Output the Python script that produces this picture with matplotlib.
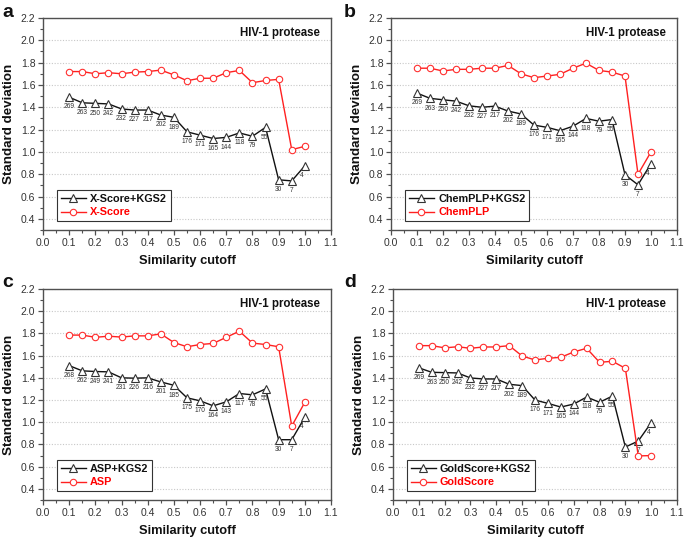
import matplotlib
matplotlib.use("Agg")
import matplotlib.pyplot as plt
from matplotlib.ticker import MultipleLocator

plt.rcParams['font.family'] = ['Liberation Sans', 'DejaVu Sans']

cutoff = [0.10, 0.15, 0.20, 0.25, 0.30, 0.35, 0.40, 0.45, 0.50, 0.55,
          0.60, 0.65, 0.70, 0.75, 0.80, 0.85, 0.90, 0.95, 1.00]

# Panel a
xscore_kgs2 = [1.49, 1.44, 1.435, 1.43, 1.385, 1.375, 1.375, 1.33, 1.31, 1.18,
               1.15, 1.12, 1.13, 1.17, 1.14, 1.22, 0.75, 0.74, 0.875]
xscore = [1.72, 1.72, 1.70, 1.71, 1.70, 1.715, 1.72, 1.733, 1.69, 1.638,
          1.66, 1.66, 1.71, 1.73, 1.62, 1.64, 1.65, 1.02, 1.05]
# Panel b
chemplp_kgs2 = [1.527, 1.48, 1.467, 1.455, 1.413, 1.40, 1.41, 1.366, 1.34, 1.24,
                1.22, 1.19, 1.23, 1.30, 1.275, 1.29, 0.795, 0.705, 0.895]
chemplp = [1.75, 1.75, 1.725, 1.74, 1.74, 1.75, 1.75, 1.775, 1.70, 1.665,
           1.68, 1.695, 1.75, 1.795, 1.73, 1.715, 1.68, 0.80, 1.00]
# Panel c
asp_kgs2 = [1.51, 1.463, 1.457, 1.454, 1.40, 1.397, 1.40, 1.363, 1.333, 1.22,
            1.193, 1.148, 1.184, 1.259, 1.247, 1.30, 0.843, 0.843, 1.045]
asp = [1.785, 1.785, 1.765, 1.775, 1.767, 1.778, 1.778, 1.796, 1.718, 1.68,
       1.70, 1.71, 1.765, 1.82, 1.713, 1.70, 1.68, 0.965, 1.18]
# Panel d
goldscore_kgs2 = [1.49, 1.45, 1.447, 1.444, 1.399, 1.39, 1.39, 1.342, 1.33, 1.20,
                  1.17, 1.137, 1.164, 1.227, 1.18, 1.236, 0.777, 0.831, 0.996]
goldscore = [1.69, 1.69, 1.67, 1.68, 1.666, 1.678, 1.678, 1.69, 1.597, 1.561,
             1.576, 1.585, 1.633, 1.666, 1.54, 1.549, 1.486, 0.697, 0.70]

counts_main = ['269', '263', '250', '242', '232', '227', '217', '202', '189', '176',
               '171', '165', '144', '118', '79', '55', '30', '7', '4']
counts_asp = ['268', '262', '249', '241', '231', '226', '216', '201', '185', '175',
              '170', '164', '143', '117', '78', '55', '30', '7', '4']

panel_letters = ['a', 'b', 'c', 'd']
kgs2_names = ['X-Score+KGS2', 'ChemPLP+KGS2', 'ASP+KGS2', 'GoldScore+KGS2']
base_names = ['X-Score', 'ChemPLP', 'ASP', 'GoldScore']
kgs2_series = [xscore_kgs2, chemplp_kgs2, asp_kgs2, goldscore_kgs2]
base_series = [xscore, chemplp, asp, goldscore]
count_series = [counts_main, counts_main, counts_asp, counts_main]

W, H = 685, 541
fig = plt.figure(figsize=(W / 100, H / 100), dpi=100)

# pixel boxes: left, top, right, bottom
boxes = [(43, 18, 331, 230), (391, 18, 677, 230),
         (43, 289, 331, 500), (393, 289, 677, 500)]
letter_pos = [(2, 17), (344, 17), (2, 287), (344, 287)]

spine_c = '#505050'
tick_c = '#333333'

for i in range(4):
    l, t, r, b = boxes[i]
    ax = fig.add_axes([l / W, 1 - b / H, (r - l) / W, (b - t) / H])
    ax.plot(cutoff, kgs2_series[i], color='#111111', lw=1.0, marker='^',
            markersize=5.5, markerfacecolor='white', markeredgecolor='#333333',
            markeredgewidth=0.8, label=kgs2_names[i], zorder=3)
    ax.plot(cutoff, base_series[i], color='#ff2020', lw=1.0, marker='o',
            markersize=4.6, markerfacecolor='white', markeredgecolor='#ff3030',
            markeredgewidth=0.8, label=base_names[i], zorder=3)
    for xv, yv, txt in zip(cutoff, kgs2_series[i], count_series[i]):
        dx = 0
        if txt == '4':
            dx = -2
        elif txt == '55':
            dx = -1
        ax.annotate(txt, (xv, yv), xytext=(dx, -7.0), textcoords='offset points',
                    ha='center', va='center', fontsize=4.8, color='#333333',
                    zorder=4)
    ax.set_xlim(0.0, 1.1)
    ax.set_ylim(0.3, 2.2)
    ax.xaxis.set_major_locator(MultipleLocator(0.1))
    ax.xaxis.set_minor_locator(MultipleLocator(0.05))
    ax.set_yticks([0.4, 0.6, 0.8, 1.0, 1.2, 1.4, 1.6, 1.8, 2.0, 2.2])
    ax.yaxis.set_minor_locator(MultipleLocator(0.1))
    ax.tick_params(axis='both', which='major', direction='out', length=3.5,
                   width=0.9, color=spine_c, labelsize=7.5, labelcolor=tick_c,
                   pad=2)
    ax.tick_params(axis='both', which='minor', direction='out', length=2,
                   width=0.8, color=spine_c)
    ax.tick_params(top=False, right=False, which='both')
    for s in ax.spines.values():
        s.set_color(spine_c)
        s.set_linewidth(1.0)
    ax.grid(axis='y', which='major', linestyle=(0, (1, 1.5)), color='#c8c8c8',
            linewidth=0.8)
    ax.set_axisbelow(True)
    ax.set_xlabel('Similarity cutoff', fontsize=9.3, fontweight='bold',
                  color='#111111', labelpad=5)
    ax.set_ylabel('Standard deviation', fontsize=9.6, fontweight='bold',
                  color='#111111', labelpad=4)
    ax.text(0.962, 0.929, 'HIV-1 protease', transform=ax.transAxes,
            ha='right', va='center', fontsize=8.3, fontweight='bold',
            color='#111111')
    leg = ax.legend(loc='lower left', bbox_to_anchor=(0.049, 0.042),
                    borderaxespad=0, fontsize=7.8, handlelength=2.3,
                    frameon=True, fancybox=False, framealpha=1,
                    edgecolor='#333333', borderpad=0.35, labelspacing=0.3,
                    handletextpad=0.4)
    leg.get_frame().set_linewidth(0.8)
    texts = leg.get_texts()
    for tx in texts:
        tx.set_fontweight('bold')
    texts[0].set_color('#111111')
    texts[1].set_color('#ff0000')
    lx, ly = letter_pos[i]
    fig.text(lx / W, 1 - ly / H, panel_letters[i], fontsize=14,
             fontweight='bold', ha='left', va='baseline', color='#111111')

fig.savefig('out.png', dpi=100)
